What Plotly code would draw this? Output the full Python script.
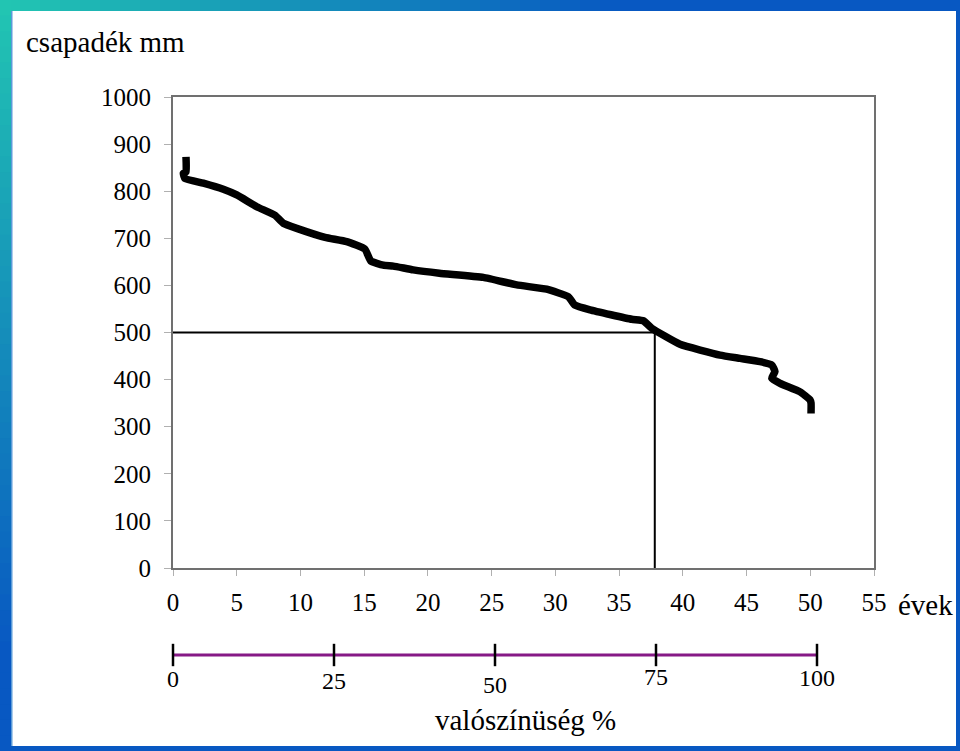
import plotly.graph_objects as go

# ---- data -------------------------------------------------------------
years = [1.02, 1.02, 0.81, 0.94, 2.38, 3.95, 5.0, 6.57, 8.0, 8.65, 9.71, 11.93,
         13.63, 15.06, 15.51, 16.5, 17.29, 18.85, 20.9, 24.35, 26.97, 29.32,
         31.02, 31.54, 32.72, 35.99, 36.9, 37.56, 39.78, 42.92, 44.49, 46.06,
         46.98, 47.23, 46.98, 47.63, 49.2, 49.98, 50.06, 50.06]
precip_mm = [873, 841, 838, 827, 817, 804, 792, 767, 749, 732, 721, 702,
             693, 677, 652, 643, 641, 633, 626, 617, 601, 592,
             576, 558, 548, 528, 525, 509, 475, 452, 445, 438,
             431, 417, 403, 392, 374, 357, 350, 328]

ref_mm = 500
ref_years = 37.8

year_ticks = [0, 5, 10, 15, 20, 25, 30, 35, 40, 45, 50, 55]
mm_ticks = [0, 100, 200, 300, 400, 500, 600, 700, 800, 900, 1000]
prob_ticks = [0, 25, 50, 75, 100]
prob_label_shift = [0, -2, -6, 2, 1]

FONT = "Liberation Serif, Times New Roman, DejaVu Serif, serif"

# ---- layout geometry helpers (pixels -> paper) -------------------------
W, H = 960, 751
ML, MR, MT, MB = 173, 86, 97, 20
PW, PH = W - ML - MR, H - MT - MB


def px(x):
    return (x - ML) / PW


def py(y):
    return (H - MB - y) / PH


fig = go.Figure()

# main curve
fig.add_trace(go.Scatter(x=years, y=precip_mm, mode="lines",
                         line=dict(color="black", width=7.5, shape="spline",
                                   smoothing=0.4),
                         xaxis="x", yaxis="y", showlegend=False,
                         hoverinfo="skip"))
# reference lines
fig.add_trace(go.Scatter(x=[0, ref_years, ref_years], y=[ref_mm, ref_mm, 0],
                         mode="lines", line=dict(color="black", width=2),
                         xaxis="x", yaxis="y", showlegend=False,
                         hoverinfo="skip"))
# probability scale
fig.add_trace(go.Scatter(x=prob_ticks, y=[0] * len(prob_ticks),
                         mode="lines+markers",
                         line=dict(color="#861a86", width=3),
                         marker=dict(symbol="line-ns", size=16,
                                     line=dict(color="black", width=2.5)),
                         xaxis="x2", yaxis="y2", showlegend=False,
                         cliponaxis=False, hoverinfo="skip"))

ann = []
for v, s in zip(prob_ticks, prob_label_shift):
    ann.append(dict(x=v, y=0, xref="x2", yref="y2", text=str(v),
                    showarrow=False, yshift=-24 + s,
                    xanchor="center", yanchor="middle",
                    font=dict(family=FONT, size=24, color="black")))
ann.append(dict(x=px(24), y=py(42), xref="paper", yref="paper",
                text="csapadék mm", showarrow=False,
                xanchor="left", yanchor="middle",
                font=dict(family=FONT, size=29, color="black")))
ann.append(dict(x=px(896), y=py(605), xref="paper", yref="paper",
                text="évek", showarrow=False,
                xanchor="left", yanchor="middle",
                font=dict(family=FONT, size=29, color="black")))
ann.append(dict(x=px(525), y=py(720), xref="paper", yref="paper",
                text="valószínüség %", showarrow=False,
                xanchor="center", yanchor="middle",
                font=dict(family=FONT, size=29, color="black")))

# ---- decorative gradient frame ---------------------------------------
teal = (34, 198, 178)
blue = (8, 88, 194)


def mix(t):
    t = max(0.0, min(1.0, t))
    return "rgb(%d,%d,%d)" % tuple(round(a + (b - a) * t) for a, b in zip(teal, blue))


shapes = []
n = 48
for i in range(n):
    x0, x1 = i * W / n, (i + 1) * W / n + 1
    shapes.append(dict(type="rect", xref="paper", yref="paper",
                       x0=px(x0), x1=px(x1), y0=py(11), y1=py(0),
                       fillcolor=mix((x0 + x1) / 2 / 620), line=dict(width=0),
                       layer="below"))
for i in range(n):
    y0, y1 = i * H / n, (i + 1) * H / n + 1
    shapes.append(dict(type="rect", xref="paper", yref="paper",
                       x0=px(0), x1=px(11), y0=py(y1), y1=py(y0),
                       fillcolor=mix((y0 + y1) / 2 / 650), line=dict(width=0),
                       layer="below"))
shapes.append(dict(type="rect", xref="paper", yref="paper",
                   x0=px(0), x1=px(W), y0=py(H), y1=py(746),
                   fillcolor=mix(1), line=dict(width=0), layer="below"))
shapes.append(dict(type="rect", xref="paper", yref="paper",
                   x0=px(956), x1=px(W), y0=py(H), y1=py(0),
                   fillcolor=mix(1), line=dict(width=0), layer="below"))
shapes.append(dict(type="rect", xref="paper", yref="paper",
                   x0=px(11), x1=px(12.5), y0=py(746), y1=py(11),
                   fillcolor="#5a9ad8", line=dict(width=0), layer="below"))

y_main0 = py(568)
y2c = py(655)

fig.update_layout(
    width=W, height=H,
    margin=dict(l=ML, r=MR, t=MT, b=MB, pad=0, autoexpand=False),
    paper_bgcolor="white", plot_bgcolor="white",
    font=dict(family=FONT, color="black"),
    xaxis=dict(domain=[0, 1], range=[0, 55], tickvals=year_ticks,
               showgrid=False, zeroline=False, showline=True,
               linecolor="#707070", linewidth=2, mirror=True,
               ticks="outside", ticklen=6, tickcolor="#b0b0b0", tickwidth=1,
               ticklabelstandoff=5, automargin=False,
               tickfont=dict(family=FONT, size=25, color="black"),
               anchor="y"),
    yaxis=dict(domain=[y_main0, 1], range=[0, 1000], tickvals=mm_ticks,
               showgrid=False, zeroline=False, showline=True,
               linecolor="#707070", linewidth=2, mirror=True,
               ticks="outside", ticklen=7, tickcolor="#b0b0b0", tickwidth=1,
               ticklabelstandoff=8, automargin=False,
               tickfont=dict(family=FONT, size=25, color="black"),
               anchor="x"),
    xaxis2=dict(domain=[0, px(817)], range=[0, 100], visible=False,
                anchor="y2"),
    yaxis2=dict(domain=[y2c - 0.03, y2c + 0.03], range=[-1, 1],
                visible=False, anchor="x2"),
    annotations=ann,
    shapes=shapes,
)

fig.write_html("out.html", config={"displayModeBar": False},
               post_script="document.body.style.margin='0px';"
                           "document.body.style.overflow='hidden';")
